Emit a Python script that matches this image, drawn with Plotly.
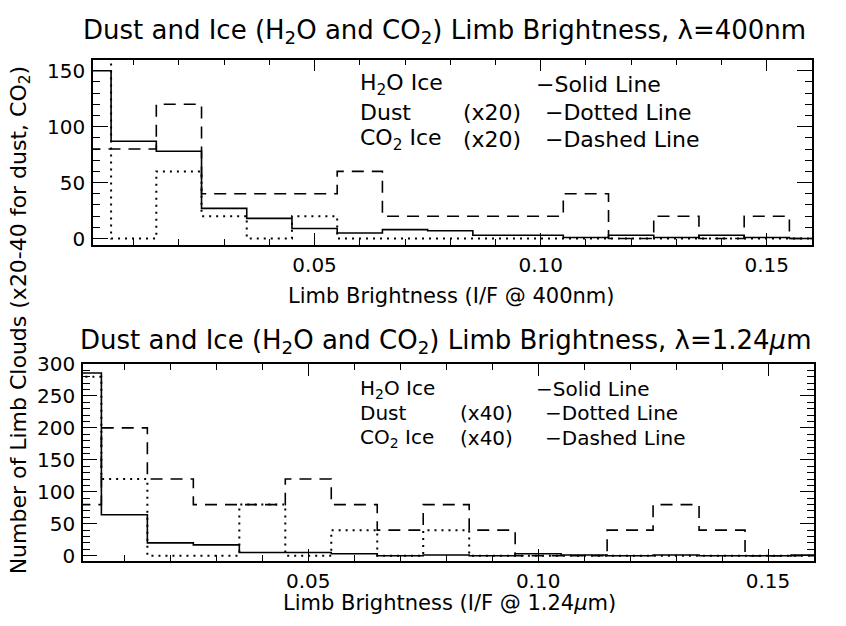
import plotly.graph_objects as go

# bin centres (I/F)
bins = [0.00, 0.01, 0.02, 0.03, 0.04, 0.05, 0.06, 0.07, 0.08,
        0.09, 0.10, 0.11, 0.12, 0.13, 0.14, 0.15, 0.16]

# Top panel, lambda = 400 nm
h2o_400 = [150, 87, 78, 27, 18, 9, 5, 8, 7, 3, 3, 1, 3, 1, 3, 1, 0]
dust_400 = [180, 0, 60, 20, 0, 20, 0, 0, 0, 0, 0, 0, 0, 0, 0, 0, 0]      # x20
co2_400 = [80, 80, 120, 40, 40, 40, 60, 20, 20, 20, 20, 40, 0, 20, 0, 20, 0]  # x20

# Bottom panel, lambda = 1.24 um
h2o_124 = [286, 64, 20, 17, 5, 5, 3, 0, 1, 0, 3, 1, 0, 1, 0, 0, 1]
dust_124 = [280, 120, 0, 0, 80, 0, 40, 0, 40, 0, 0, 0, 0, 0, 0, 0, 0]     # x40
co2_124 = [80, 200, 120, 80, 80, 120, 80, 40, 80, 40, 0, 0, 40, 80, 40, 0, 0]  # x40

xticks = [0.05, 0.10, 0.15]
xtick_text = ["0.05", "0.10", "0.15"]
yticks_top = [0, 50, 100, 150]
yticks_bot = [0, 50, 100, 150, 200, 250, 300]

FONT = "DejaVu Sans"
W, H = 846, 626

def px(x):
    return x / W

def py(y):
    return 1 - y / H

fig = go.Figure()

DOT = "2px,5px"
DASH = "12px,8px"

for xa, ya, h2o, dust, co2 in [("x", "y", h2o_400, dust_400, co2_400),
                               ("x2", "y2", h2o_124, dust_124, co2_124)]:
    fig.add_trace(go.Scatter(x=bins, y=co2, mode="lines", line_shape="hvh",
                             line=dict(color="black", width=1.6, dash=DASH),
                             xaxis=xa, yaxis=ya, showlegend=False))
    fig.add_trace(go.Scatter(x=bins, y=dust, mode="lines", line_shape="hvh",
                             line=dict(color="black", width=2, dash=DOT),
                             xaxis=xa, yaxis=ya, showlegend=False))
    fig.add_trace(go.Scatter(x=bins, y=h2o, mode="lines", line_shape="hvh",
                             line=dict(color="black", width=1.6),
                             xaxis=xa, yaxis=ya, showlegend=False))

axis_common = dict(showline=True, linecolor="black", linewidth=1.5,
                   mirror="allticks", ticks="inside", showgrid=False,
                   zeroline=False, tickcolor="black", tickwidth=1.3,
                   tickfont=dict(family=FONT, size=20, color="black"))

fig.update_layout(
    width=W, height=H, margin=dict(l=0, r=0, t=0, b=0),
    plot_bgcolor="white", paper_bgcolor="white",
    xaxis=dict(domain=[px(93), px(812)], range=[0.001, 0.16], anchor="y",
               tickvals=xticks, ticktext=xtick_text, ticklen=12,
               ticklabelstandoff=2,
               minor=dict(dtick=0.01, tick0=0, ticks="inside", ticklen=6,
                          tickcolor="black", tickwidth=1.2),
               **axis_common),
    yaxis=dict(domain=[py(240), py(49)], range=[-5.5, 160], anchor="x",
               tickvals=yticks_top, ticklen=15, ticklabelstandoff=2,
               minor=dict(dtick=10, tick0=0, ticks="inside", ticklen=7,
                          tickcolor="black", tickwidth=1.2),
               **axis_common),
    xaxis2=dict(domain=[px(83), px(814)], range=[0.001, 0.16], anchor="y2",
                tickvals=xticks, ticktext=xtick_text, ticklen=12,
                ticklabelstandoff=1,
                minor=dict(dtick=0.01, tick0=0, ticks="inside", ticklen=6,
                           tickcolor="black", tickwidth=1.2),
                **axis_common),
    yaxis2=dict(domain=[py(566), py(363)], range=[-8, 300], anchor="x2",
                tickvals=yticks_bot, ticklen=14, ticklabelstandoff=2,
                minor=dict(dtick=10, tick0=0, ticks="inside", ticklen=7,
                           tickcolor="black", tickwidth=1.2),
                **axis_common),
)

def ann(text, x, y, size, xanchor="left", yanchor="middle", angle=0):
    fig.add_annotation(text=text, x=px(x), y=py(y), xref="paper", yref="paper",
                       xanchor=xanchor, yanchor=yanchor, showarrow=False,
                       textangle=angle,
                       font=dict(family=FONT, size=size, color="black"))

# Titles
ann("Dust and Ice (H<sub>2</sub>O and CO<sub>2</sub>) Limb Brightness, λ=400nm",
    444, 20, 26, xanchor="center")
ann("Dust and Ice (H<sub>2</sub>O and CO<sub>2</sub>) Limb Brightness, λ=1.24<i>μ</i>m",
    445, 340, 26, xanchor="center")

# Axis titles
ann("Limb Brightness (I/F @ 400nm)", 451, 293, 21, xanchor="center")
ann("Limb Brightness (I/F @ 1.24<i>μ</i>m)", 449, 609, 21, xanchor="center")
ann("Number of Limb Clouds (x20-40 for dust, CO<sub>2</sub>)", 20, 318, 22,
    xanchor="center", angle=-90)

# In-plot key, top panel
ann("H<sub>2</sub>O Ice", 358, 75, 22)
ann("Dust", 358, 104, 22)
ann("CO<sub>2</sub> Ice", 358, 132, 22)
ann("(x20)", 461, 104, 22)
ann("(x20)", 461, 132, 22)
ann("−Solid Line", 534, 75, 22)
ann("−Dotted Line", 543, 104, 22)
ann("−Dashed Line", 543, 132, 22)

# In-plot key, bottom panel
ann("H<sub>2</sub>O Ice", 358, 389, 20)
ann("Dust", 358, 414, 20)
ann("CO<sub>2</sub> Ice", 358, 439, 20)
ann("(x40)", 458, 414, 20)
ann("(x40)", 458, 439, 20)
ann("−Solid Line", 534, 389, 20)
ann("−Dotted Line", 543, 414, 20)
ann("−Dashed Line", 543, 439, 20)

fig.write_html("out.html")
